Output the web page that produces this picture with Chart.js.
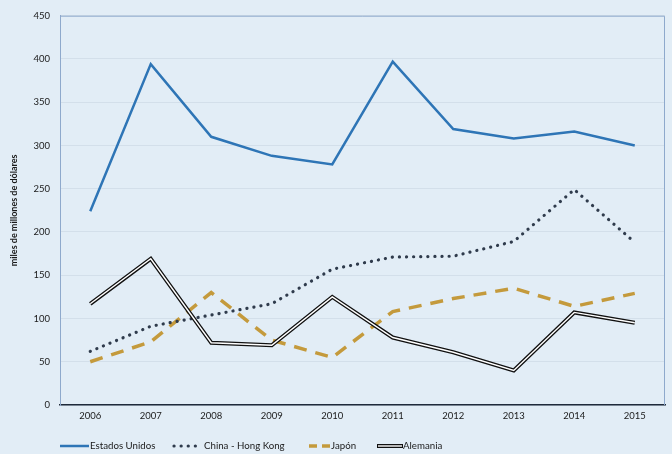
<!DOCTYPE html>
<html>
<head>
<meta charset="utf-8">
<script src="https://cdn.jsdelivr.net/npm/chart.js@4"></script>
<style>
  html, body { margin: 0; padding: 0; background: #e2edf6; }
  #wrap { width: 672px; height: 454px; position: relative; }
</style>
</head>
<body>
<div id="wrap"><canvas id="chart"></canvas></div>
<script>
const years = ["2006", "2007", "2008", "2009", "2010", "2011", "2012", "2013", "2014", "2015"];
const estadosUnidos = [224, 394, 310, 288, 278, 397, 319, 308, 316, 300];
const chinaHongKong = [62, 91, 104, 117, 157, 171, 172, 189, 249, 188];
const japon = [50, 73, 130, 75, 55, 108, 123, 135, 114, 129];
const alemania = [117, 169, 72, 69, 125, 78, 61, 40, 107, 95];
const yTicks = [0, 50, 100, 150, 200, 250, 300, 350, 400, 450];

const FONT = "Lato, 'Open Sans', sans-serif";
const NARROW = "'Liberation Sans Narrow', Lato, sans-serif";

// legend drawn by hand so it sits left of centre like the original
const legendPlugin = {
  id: "manualLegend",
  afterDraw(chart) {
    const ctx = chart.ctx;
    const y = 446;
    ctx.save();
    ctx.font = "9.7px " + FONT;
    ctx.fillStyle = "#1a1a1a";
    ctx.textBaseline = "middle";

    // Estados Unidos
    ctx.strokeStyle = "#2e75b6";
    ctx.lineWidth = 2.5;
    ctx.beginPath(); ctx.moveTo(60, y); ctx.lineTo(89, y); ctx.stroke();
    ctx.fillText("Estados Unidos", 90, y);

    // China - Hong Kong
    ctx.strokeStyle = "#2f3b4c";
    ctx.lineWidth = 3.2;
    ctx.lineCap = "round";
    ctx.setLineDash([0.1, 7]);
    ctx.beginPath(); ctx.moveTo(174, y); ctx.lineTo(198, y); ctx.stroke();
    ctx.fillText("China - Hong Kong", 204, y);

    // Japon
    ctx.lineCap = "butt";
    ctx.strokeStyle = "#c49a3c";
    ctx.lineWidth = 3.5;
    ctx.setLineDash([8, 5]);
    ctx.beginPath(); ctx.moveTo(309, y); ctx.lineTo(331, y); ctx.stroke();
    ctx.setLineDash([]);
    ctx.fillText("Japón", 331, y);

    // Alemania
    ctx.strokeStyle = "#111";
    ctx.lineWidth = 4;
    ctx.beginPath(); ctx.moveTo(377, y); ctx.lineTo(403, y); ctx.stroke();
    ctx.strokeStyle = "#fff";
    ctx.lineWidth = 1.4;
    ctx.beginPath(); ctx.moveTo(378, y); ctx.lineTo(402, y); ctx.stroke();
    ctx.fillText("Alemania", 403, y);
    ctx.restore();
  }
};

// plot area frame (top and right edges)
const framePlugin = {
  id: "frame",
  beforeDatasetsDraw(chart) {
    const { ctx, chartArea: a } = chart;
    ctx.save();
    ctx.strokeStyle = "#8ea9cc";
    ctx.lineWidth = 1;
    ctx.beginPath();
    ctx.moveTo(a.left, a.top + 0.5);
    ctx.lineTo(a.right - 0.5, a.top + 0.5);
    ctx.lineTo(a.right - 0.5, a.bottom);
    ctx.stroke();
    ctx.restore();
  }
};

new Chart(document.getElementById("chart"), {
  type: "line",
  data: {
    labels: years,
    datasets: [
      {
        label: "Estados Unidos",
        data: estadosUnidos,
        borderColor: "#2e75b6",
        borderWidth: 2.5,
        pointRadius: 0,
        tension: 0,
        order: 1
      },
      {
        label: "China - Hong Kong",
        data: chinaHongKong,
        borderColor: "#2f3b4c",
        borderWidth: 3.2,
        borderDash: [0.1, 7],
        borderCapStyle: "round",
        pointRadius: 0,
        tension: 0,
        order: 2
      },
      {
        label: "Japón",
        data: japon,
        borderColor: "#c49a3c",
        borderWidth: 3.5,
        borderDash: [13, 9],
        pointRadius: 0,
        tension: 0,
        order: 3
      },
      {
        label: "Alemania",
        data: alemania,
        borderColor: "#111111",
        borderWidth: 4,
        pointRadius: 0,
        tension: 0,
        order: 0
      },
      {
        label: "Alemania-inner",
        data: alemania,
        borderColor: "#ffffff",
        borderWidth: 1.4,
        pointRadius: 0,
        tension: 0,
        order: -1
      }
    ]
  },
  options: {
    responsive: true,
    maintainAspectRatio: false,
    animation: false,
    layout: { padding: { top: 13, right: 7, left: 0, bottom: 0 } },
    plugins: {
      legend: { display: false },
      tooltip: { enabled: false }
    },
    scales: {
      x: {
        offset: true,
        grid: { display: false, drawTicks: false },
        border: { color: "#1f2a3a", width: 1.5 },
        ticks: { color: "#1a1a1a", font: { family: FONT, size: 9.5 }, padding: 5, maxRotation: 0 },
        afterFit(scale) { scale.height = 49; }
      },
      y: {
        min: 0,
        max: 450,
        afterBuildTicks(scale) { scale.ticks = yTicks.map(v => ({ value: v })); },
        grid: { color: "#d3dfea", drawTicks: false },
        border: { color: "#8ea9cc", width: 1 },
        ticks: { color: "#1a1a1a", font: { family: FONT, size: 9.5 }, padding: 10 },
        title: {
          display: true,
          text: "miles de millones de dólares",
          color: "#1a1a1a",
          font: { family: NARROW, size: 9, weight: "bold" },
          padding: { top: 9, bottom: 2 }
        },
        afterFit(scale) { scale.width = 60; }
      }
    }
  },
  plugins: [framePlugin, legendPlugin]
});
</script>
</body>
</html>
